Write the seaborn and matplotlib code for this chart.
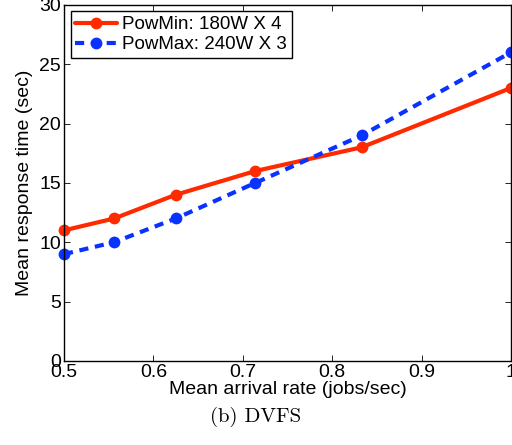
import matplotlib
matplotlib.use("Agg")
import matplotlib.pyplot as plt
import seaborn as sns
import pandas as pd

# Dados
taxa_chegada = [0.5, 0.556, 0.625, 0.714, 0.833, 1.0]
tempo_powmin = [11, 12, 14, 16, 18, 23]
tempo_powmax = [9, 10, 12, 15, 19, 26]
rotulos = ['PowMin: 180W X 4', 'PowMax: 240W X 3']
xticks = [0.5, 0.6, 0.7, 0.8, 0.9, 1.0]
xtick_labels = ['0.5', '0.6', '0.7', '0.8', '0.9', '1']
yticks = [0, 5, 10, 15, 20, 25, 30]

df = pd.DataFrame({
    'x': taxa_chegada * 2,
    'y': tempo_powmin + tempo_powmax,
    'serie': [rotulos[0]] * len(taxa_chegada) + [rotulos[1]] * len(taxa_chegada),
})

sns.set_style("ticks")
plt.rcParams['font.family'] = ['Liberation Sans', 'DejaVu Sans']
plt.rcParams['text.color'] = 'black'
plt.rcParams['axes.labelcolor'] = 'black'
plt.rcParams['xtick.color'] = 'black'
plt.rcParams['ytick.color'] = 'black'
plt.rcParams['axes.edgecolor'] = 'black'

fig = plt.figure(figsize=(5.12, 4.45), dpi=100)
ax = fig.add_axes([0.125, 0.189, 0.873, 0.8])

cores = {rotulos[0]: '#ff2a00', rotulos[1]: '#0a32ff'}
sns.lineplot(data=df, x='x', y='y', hue='serie', style='serie',
             palette=cores, dashes={rotulos[0]: '', rotulos[1]: (2.2, 1.6)},
             markers={rotulos[0]: 'o', rotulos[1]: 'o'}, markersize=8.5,
             markeredgewidth=0, linewidth=3, ax=ax, clip_on=False)

ax.set_xlim(0.5, 1.0)
ax.set_ylim(0, 30)
ax.set_xticks(xticks)
ax.set_xticklabels(xtick_labels)
ax.set_yticks(yticks)
ax.tick_params(direction='in', top=True, right=True, labelsize=14, length=4, width=0.6, pad=2)
for s in ax.spines.values():
    s.set_linewidth(1.0)
    s.set_visible(True)

ax.set_xlabel('Mean arrival rate (jobs/sec)', fontsize=14, labelpad=0)
ax.set_ylabel('Mean response time (sec)', fontsize=14, labelpad=5)

leg = ax.legend(loc='upper left', fontsize=13.5, frameon=True, fancybox=False,
                edgecolor='black', borderpad=0.25, handlelength=2.2,
                handletextpad=0.3, labelspacing=0.15, borderaxespad=0.35)
leg.get_frame().set_linewidth(1.0)
leg.get_frame().set_alpha(1)

# legenda da figura em fonte serifada (estilo LaTeX)
fig.text(0.5, 0.063, '(b) DVFS', ha='center', va='center', fontsize=15,
         family=['cmr10', 'DejaVu Serif'])

fig.savefig('out.png', dpi=100)
